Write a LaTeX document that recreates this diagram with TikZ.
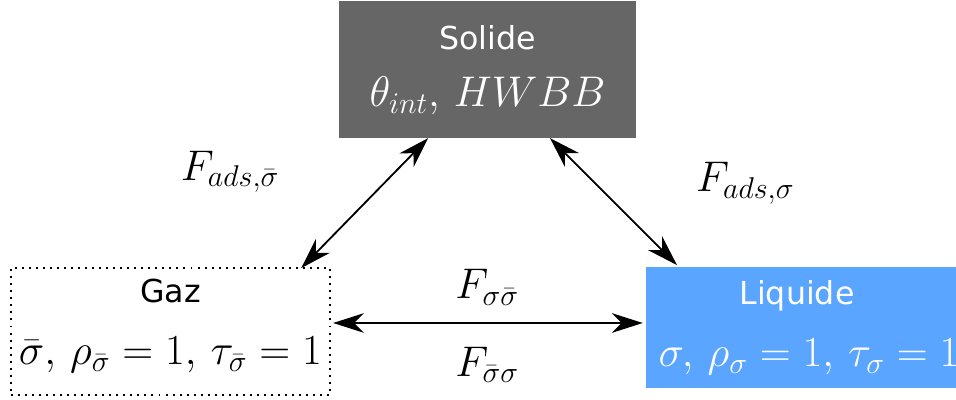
\RequirePackage{fix-cm}
\documentclass[tikz,border=0pt]{standalone}
\usepackage{amsmath,amssymb}
\usepackage{fontspec}
\setsansfont{DejaVu Sans}
\usetikzlibrary{calc,positioning,arrows.meta}
\usepackage{xcolor}
\definecolor{mygray}{RGB}{102,102,102}
\definecolor{myblue}{RGB}{90,165,255}

\tikzset{
  phase/.style={minimum width=#1, inner sep=0pt, outer sep=0pt},
  title/.style={font=\sffamily\fontsize{22.5}{27}\selectfont},
  eq/.style={font=\fontsize{30.5}{36}\selectfont},
  flux/.style={line width=1.3pt, {Stealth[length=22pt,width=14pt,inset=7pt]}-{Stealth[length=22pt,width=14pt,inset=7pt]}}
}

\begin{document}
\begin{tikzpicture}
  \useasboundingbox (0,0) rectangle (23.9,10);
  % the three phases
  \node[phase=7.425cm, minimum height=3.425cm, fill=mygray] (solide) at (12.19,8.26) {};
  \node[phase=7.975cm, minimum height=3.175cm, draw, line width=1.1pt, dash pattern=on 1.4pt off 3.6pt] (gaz) at (4.26,1.71) {};
  \node[phase=7.75cm, minimum height=3.025cm, fill=myblue] (liquide) at (20.025,1.81) {};
  % texts inside
  \node[title, white] (solidet) at ($(solide.north)+(0,-0.925)$) {Solide};
  \node[eq, white] (solidem) at ($(solide.north)+(0,-2.375)$) {$\theta_{int},\,HWBB$};
  \node[title] (gazt) at ($(gaz.north)+(0,-0.575)$) {Gaz};
  \node[eq] (gazm) at ($(gaz.north)+(0,-2.175)$) {$\bar{\sigma},\,\rho_{\bar{\sigma}}=1,\,\tau_{\bar{\sigma}}=1$};
  \node[title, white] (liquidet) at ($(liquide.north)+(-0.1,-0.725)$) {Liquide};
  \node[eq, white] (liquidem) at ($(liquide.north)+(0.2,-2.25)$) {$\sigma,\,\rho_{\sigma}=1,\,\tau_{\sigma}=1$};
  % exchanges
  \coordinate (sg) at ($(solide.south west)!0.30!(solide.south east)$);
  \coordinate (gs) at ($(gaz.north west)!0.91!(gaz.north east)$);
  \coordinate (sl) at ($(solide.south west)!0.71!(solide.south east)$);
  \coordinate (ls) at ($(liquide.north west)!0.10!(liquide.north east)+(0,0.05)$);
  \coordinate (gl) at ($(gaz.east)+(0.08,0.215)$);
  \coordinate (lg) at ($(liquide.west)+(-0.08,0.115)$);
  \draw[flux] (sg) -- (gs);
  \draw[flux] (sl) -- (ls);
  \draw[flux] (gl) -- (lg);
  \node[eq] (fgaz) at (5.75,5.7) {$F_{ads,\bar{\sigma}}$};
  \node[eq] (fliq) at (18.63,5.42) {$F_{ads,\sigma}$};
  \node[eq] (fsg) at (12.18,2.82) {$F_{\sigma\bar{\sigma}}$};
  \node[eq] (fgs) at (12.18,0.88) {$F_{\bar{\sigma}\sigma}$};
\end{tikzpicture}
\end{document}
